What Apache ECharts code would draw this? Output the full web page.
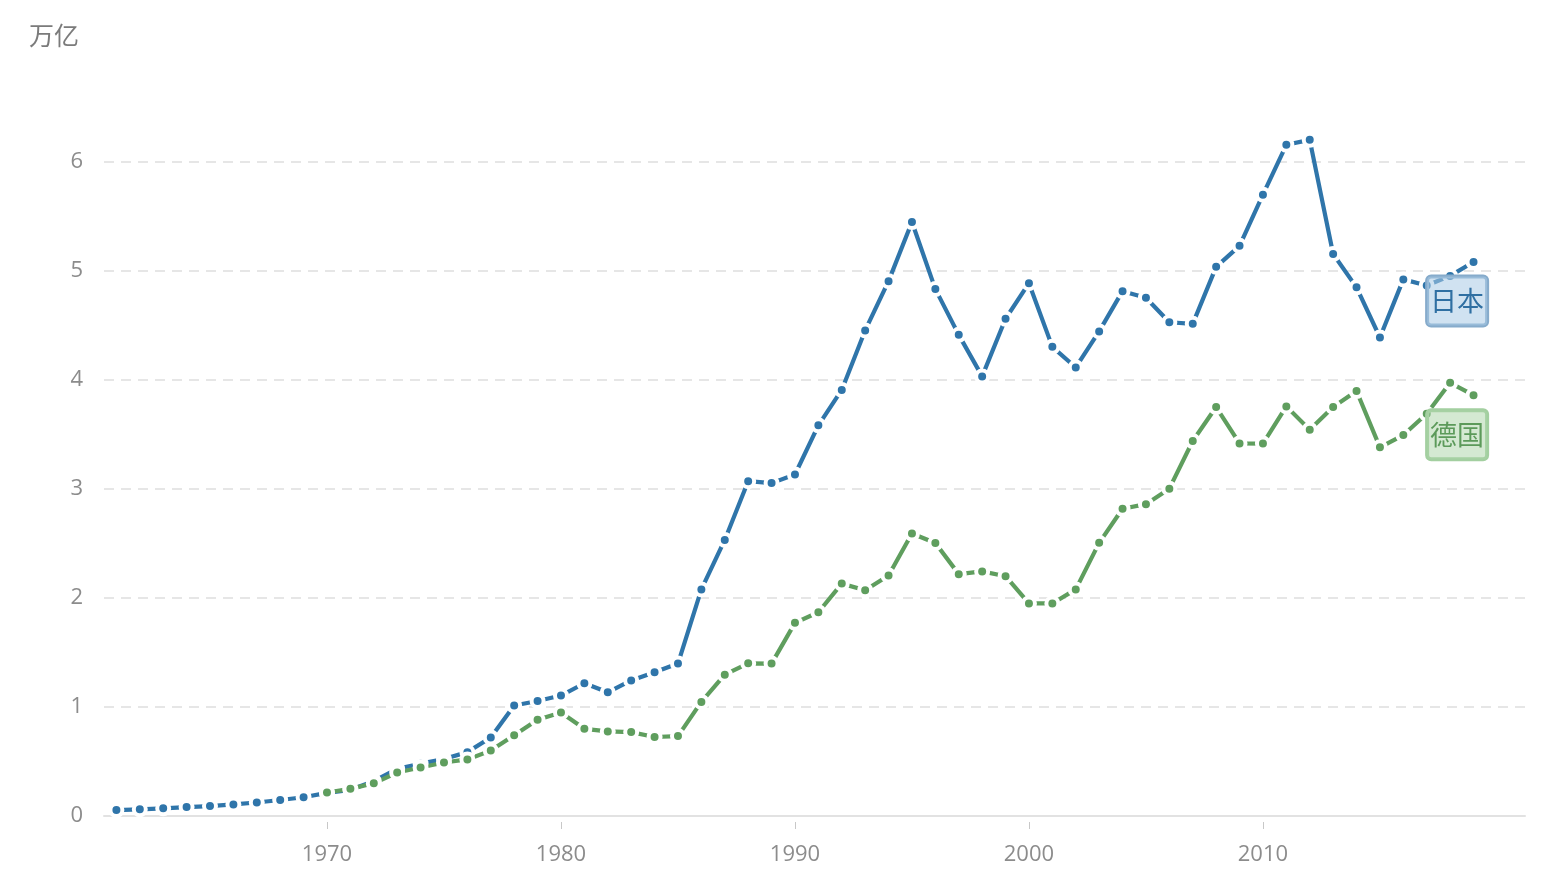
<!DOCTYPE html>
<html>
<head>
<meta charset="utf-8">
<script src="https://cdn.jsdelivr.net/npm/echarts@6/dist/echarts.min.js"></script>
<style>
html,body{margin:0;padding:0;background:#fff;}
#chart{width:1550px;height:891px;}
</style>
</head>
<body>
<div id="chart"></div>
<script>
// Data (trillions, current US$)
const japanStartYear = 1961;
const japanValues = [
  0.054, 0.061, 0.070, 0.082, 0.091, 0.106, 0.124, 0.147, 0.172,
  0.212, 0.240, 0.319, 0.432, 0.480, 0.522, 0.586, 0.721, 1.014, 1.055,
  1.105, 1.218, 1.135, 1.244, 1.318, 1.399, 2.079, 2.533, 3.072, 3.054,
  3.133, 3.584, 3.909, 4.455, 4.907, 5.449, 4.834, 4.414, 4.033, 4.562,
  4.888, 4.304, 4.115, 4.446, 4.815, 4.755, 4.530, 4.515, 5.038, 5.231,
  5.700, 6.158, 6.203, 5.156, 4.850, 4.390, 4.923, 4.867, 4.955, 5.082
];
const germanyStartYear = 1970;
const germanyValues = [
  0.216, 0.249, 0.300, 0.399, 0.445, 0.491, 0.519, 0.600, 0.740, 0.882,
  0.950, 0.800, 0.776, 0.770, 0.725, 0.733, 1.047, 1.297, 1.401, 1.398,
  1.772, 1.869, 2.132, 2.071, 2.206, 2.592, 2.504, 2.219, 2.244, 2.200,
  1.950, 1.950, 2.079, 2.506, 2.819, 2.861, 3.003, 3.440, 3.752, 3.418,
  3.417, 3.758, 3.544, 3.753, 3.899, 3.382, 3.495, 3.690, 3.974, 3.861
];
const seriesNames = ['日本', '德国'];
const xTickYears = [1970, 1980, 1990, 2000, 2010];
const yTickValues = [0, 1, 2, 3, 4, 5, 6];
const unitLabel = '万亿';
const labelYear = 2018;

const BLUE = '#2f75aa';
const GREEN = '#5f9e5e';

function toPairs(start, vals, labelCfg) {
  return vals.map((v, i) => {
    const yr = start + i;
    if (yr === labelYear && labelCfg) {
      return { value: [yr, v], label: labelCfg };
    }
    return [yr, v];
  });
}

const labelBase = {
  show: true,
  position: 'inside',
  fontSize: 27,
  fontFamily: '"Noto Sans CJK SC", sans-serif',
  lineHeight: 27,
  padding: [11, 3, 11, 3],
  borderRadius: 4,
  borderWidth: 2,
  formatter: '{a}'
};

const japanLabel = Object.assign({}, labelBase, {
  color: '#2f6fa2',
  backgroundColor: 'rgba(170,203,230,0.55)',
  borderColor: '#86abcb',
  offset: [7, 25]
});
const germanyLabel = Object.assign({}, labelBase, {
  color: '#5c9a5a',
  backgroundColor: 'rgba(170,212,165,0.5)',
  borderColor: '#a3cfa0',
  offset: [7, 52]
});

const chart = echarts.init(document.getElementById('chart'), null, { renderer: 'canvas' });

const xMin = 1960.47, xMax = 2021.2;
const axisFont = { fontSize: 22, color: '#8c8c8c', fontFamily: '"Open Sans", sans-serif' };

function lineSeries(name, data, color) {
  return {
    name: name,
    type: 'line',
    data: data,
    xAxisIndex: 0,
    symbol: 'circle',
    symbolSize: 12,
    showSymbol: true,
    lineStyle: { color: color, width: 4.2 },
    itemStyle: { color: color, borderColor: '#ffffff', borderWidth: 4 },
    emphasis: { disabled: true },
    animation: false
  };
}

chart.setOption({
  animation: false,
  backgroundColor: '#ffffff',
  title: {
    text: unitLabel,
    left: 24,
    top: 18,
    textStyle: { fontSize: 25, fontWeight: 'normal', color: '#7b7b7b', fontFamily: '"Noto Sans CJK SC", sans-serif' }
  },
  grid: { left: 104, right: 25, top: 53, bottom: 75, containLabel: false },
  xAxis: [
    {
      type: 'value', min: xMin, max: xMax, position: 'bottom',
      axisLine: { show: true, lineStyle: { color: '#e2e2e2', width: 2 } },
      axisTick: { show: false },
      axisLabel: { show: false },
      splitLine: { show: false }
    },
    {
      type: 'value', min: xMin, max: xMax, position: 'bottom', offset: 6,
      axisLine: { show: false },
      axisTick: { show: true, length: 7, customValues: xTickYears, lineStyle: { color: '#c8c8c8', width: 1 } },
      axisLabel: Object.assign({ show: true, customValues: xTickYears, margin: 22, formatter: v => String(v) }, axisFont),
      splitLine: { show: false }
    }
  ],
  yAxis: {
    type: 'value', min: 0, max: 7, interval: 1,
    axisLine: { show: false },
    axisTick: { show: false },
    axisLabel: Object.assign({
      margin: 21,
      showMaxLabel: false,
      formatter: v => (yTickValues.indexOf(v) >= 0 ? String(v) : '')
    }, axisFont),
    splitLine: { show: true, showMinLine: false, showMaxLine: false, lineStyle: { color: '#dedede', width: 1.5, type: [10, 7] } }
  },
  series: [
    lineSeries(seriesNames[0], toPairs(japanStartYear, japanValues, japanLabel), BLUE),
    lineSeries(seriesNames[1], toPairs(germanyStartYear, germanyValues, germanyLabel), GREEN)
  ]
});
</script>
</body>
</html>
